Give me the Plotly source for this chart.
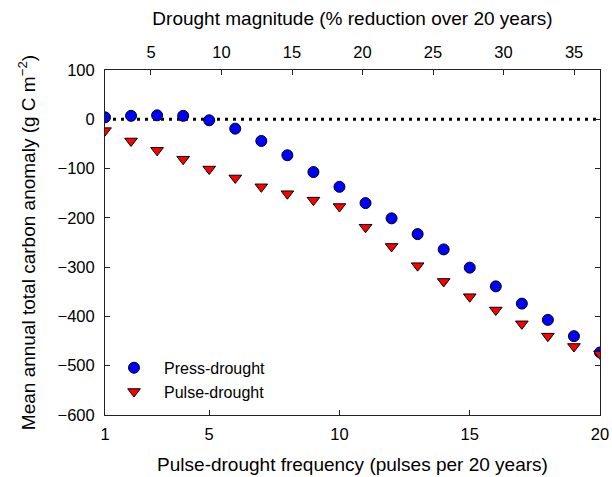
import plotly.graph_objects as go

# Pulse-drought frequency (pulses per 20 years)
frequency = [1, 2, 3, 4, 5, 6, 7, 8, 9, 10, 11, 12, 13, 14, 15, 16, 17, 18, 19, 20]

# Mean annual total carbon anomaly (g C m-2)
press_drought = [4, 7, 8, 7, -2, -19, -44, -73, -107, -137, -170, -201, -233, -264,
                 -301, -339, -374, -407, -440, -473]
pulse_drought = [-23, -44, -63, -81, -101, -119, -137, -151, -164, -177, -219, -258,
                 -297, -329, -360, -387, -415, -440, -461, -476]

x_ticks = [1, 5, 10, 15, 20]
y_ticks = [-600, -500, -400, -300, -200, -100, 0, 100]
magnitude_ticks = [5, 10, 15, 20, 25, 30, 35]
magnitude_range = [1.74, 36.84]   # drought magnitude spanned by frequencies 1-20

zero_line_x = [1, 20]
zero_line_y = [0, 0]

FONT = "Liberation Sans, Arial, sans-serif"
AXIS_COLOR = "#222222"
TICK_SIZE = 16.5
TITLE_SIZE = 19

fig = go.Figure()

# reference line at zero anomaly
fig.add_trace(go.Scatter(
    x=zero_line_x, y=zero_line_y, mode="lines", showlegend=False, hoverinfo="skip",
    line=dict(color="black", width=3, dash="3px,5px"),
))

fig.add_trace(go.Scatter(
    x=frequency, y=press_drought, mode="markers", name="Press-drought",
    marker=dict(symbol="circle", size=11, color="#0000ff",
                line=dict(color="black", width=1)),
))
fig.add_trace(go.Scatter(
    x=frequency, y=pulse_drought, mode="markers", name="Pulse-drought",
    marker=dict(symbol="triangle-down", size=11, color="#ff0000",
                line=dict(color="black", width=1)),
))

# invisible trace so the top (magnitude) axis is drawn
fig.add_trace(go.Scatter(
    x=magnitude_range, y=[None, None], xaxis="x2", mode="markers",
    showlegend=False, hoverinfo="skip",
))

axis_common = dict(
    showline=True, linecolor=AXIS_COLOR, linewidth=1,
    ticks="inside", ticklen=5, tickcolor=AXIS_COLOR, tickwidth=1,
    showgrid=False, zeroline=False, automargin=False,
    tickfont=dict(family=FONT, size=TICK_SIZE, color="black"),
)

fig.update_layout(
    width=612, height=477,
    margin=dict(l=105, r=12, t=70, b=62),
    paper_bgcolor="white", plot_bgcolor="white",
    font=dict(family=FONT, size=TICK_SIZE, color="black"),
    xaxis=dict(
        **axis_common, range=[1, 20], tickvals=x_ticks, ticklabelstandoff=4,
        title=dict(text="Pulse-drought frequency (pulses per 20 years)",
                   font=dict(family=FONT, size=TITLE_SIZE), standoff=15),
    ),
    xaxis2=dict(
        **axis_common, range=magnitude_range, tickvals=magnitude_ticks,
        overlaying="x", side="top", anchor="y", ticklabelstandoff=4,
        title=dict(text="Drought magnitude (% reduction over 20 years)",
                   font=dict(family=FONT, size=TITLE_SIZE), standoff=12),
    ),
    yaxis=dict(
        **axis_common, range=[-600, 100], tickvals=y_ticks, mirror="ticks",
        ticklabelstandoff=6,
        title=dict(text="Mean annual total carbon anomaly (g C m<sup>\u22122</sup>)",
                   font=dict(family=FONT, size=TITLE_SIZE), standoff=16),
    ),
    legend=dict(
        x=-0.002, y=0.186, xanchor="left", yanchor="top",
        bgcolor="rgba(0,0,0,0)", borderwidth=0,
        font=dict(family=FONT, size=16), itemwidth=50,
    ),
)

fig.write_html("out.html")
